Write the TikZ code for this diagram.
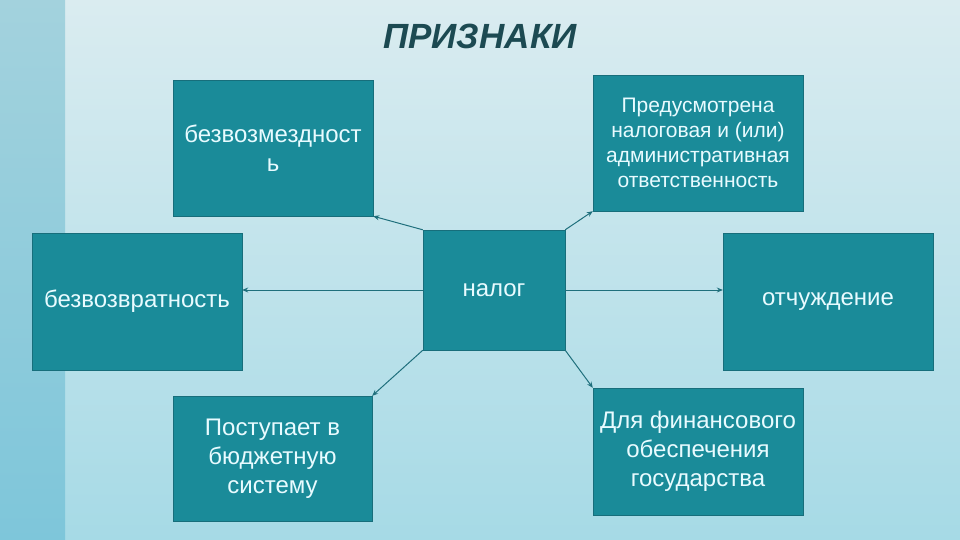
\documentclass[tikz,border=0pt]{standalone}
\usepackage{fontspec}
\setmainfont{Liberation Sans}
\usetikzlibrary{arrows.meta}
\definecolor{boxfill}{HTML}{1A8B99}
\definecolor{boxline}{HTML}{176E7B}
\definecolor{boxtext}{HTML}{E8FBFF}
\definecolor{linkcol}{HTML}{1F6F7C}
\definecolor{titlecol}{HTML}{1C4A52}
\definecolor{bgtop}{HTML}{DAECF0}
\definecolor{bgbot}{HTML}{A6DAE6}
\definecolor{striptop}{HTML}{A3D2DD}
\definecolor{stripbot}{HTML}{7EC6DA}
\begin{document}
\begin{tikzpicture}[x=1pt,y=-1pt,
  every node/.style={draw=boxline,fill=boxfill,text=boxtext,align=center,inner sep=0pt,
    font=\fontsize{24}{29}\selectfont},
  link/.style={draw=linkcol,line width=1pt,-{Stealth[length=6pt,width=5pt]}}]
\useasboundingbox (0,0) rectangle (960,540);
\shade[top color=bgtop,bottom color=bgbot] (0,0) rectangle (960,540);
\shade[top color=striptop,bottom color=stripbot] (0,0) rectangle (65,540);
\node[draw=none,fill=none,text=titlecol,font=\fontsize{35}{38}\bfseries\itshape\selectfont] at(480,36)(title){ПРИЗНАКИ};
\node[minimum width=200,minimum height=136] at(273,148)  (bm){безвозмездност\\ь};
\node[minimum width=210,minimum height=136,font=\fontsize{21}{25}\selectfont] at(698,143)(otv){Предусмотрена\\налоговая и (или)\\административная\\ответственность};
\node[minimum width=142,minimum height=120] at(494,290)  (nalog){налог};
\node[minimum width=210,minimum height=137] at(137,301.5)(bvr){безвозвратность};
\node[minimum width=210,minimum height=137] at(828,301.5)(otch){отчуждение};
\node[minimum width=199,minimum height=125] at(272.5,458.5)(post){Поступает в\\бюджетную\\систему};
\node[minimum width=210,minimum height=127] at(698,451.5)(fin){Для финансового\\обеспечения\\государства};
\draw[link](nalog.north west)--(bm.south east);
\draw[link](nalog.north east)--(otv.south west);
\draw[link](nalog.west)--(nalog.west-|bvr.east);
\draw[link](nalog.east)--(nalog.east-|otch.west);
\draw[link](nalog.south west)--(post.north east);
\draw[link](nalog.south east)--(fin.north west);
\end{tikzpicture}
\end{document}
